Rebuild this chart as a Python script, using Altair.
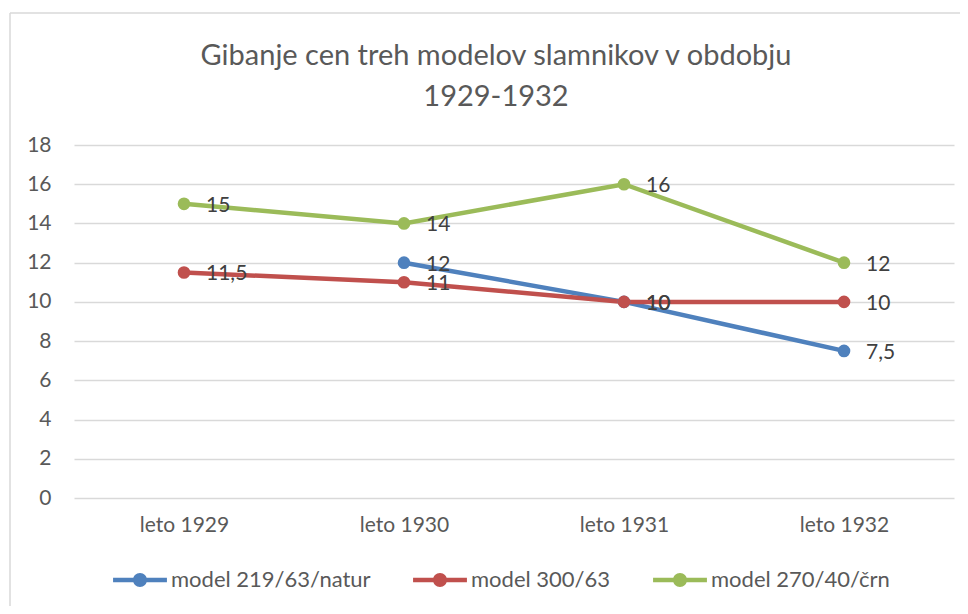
import altair as alt
import pandas as pd

years = ["leto 1929", "leto 1930", "leto 1931", "leto 1932"]
series = ["model 219/63/natur", "model 300/63", "model 270/40/črn"]
colors = ["#4F81BD", "#C0504D", "#9BBB59"]
vals_219 = [None, 12, 10, 7.5]
vals_300 = [11.5, 11, 10, 10]
vals_270 = [15, 14, 16, 12]
y_ticks = [0, 2, 4, 6, 8, 10, 12, 14, 16, 18]

rows = []
for s, vals in zip(series, [vals_219, vals_300, vals_270]):
    for i, (yr, v) in enumerate(zip(years, vals)):
        if v is None:
            continue
        rows.append({"leto": yr, "serija": s, "cena": v,
                     "oznaka": f"{v:g}".replace(".", ","),
                     "red": series.index(s)})
df = pd.DataFrame(rows)

FONT = "Lato"
GREY = "#595959"

legend_path = ("M-1,-0.085 L1,-0.085 L1,0.085 L-1,0.085 Z "
               "M0.26,0 A0.26,0.26 0 1,1 -0.26,0 A0.26,0.26 0 1,1 0.26,0 Z")

x_enc = alt.X("leto:N", sort=years, title=None,
              scale=alt.Scale(type="point", padding=0.5),
              axis=alt.Axis(labelAngle=0, grid=False, domain=False, ticks=False,
                            labelPadding=16, labelFontSize=21, labelFont=FONT,
                            labelColor=GREY))
y_enc = alt.Y("cena:Q", title=None,
              scale=alt.Scale(domain=[0, 18], nice=False),
              axis=alt.Axis(values=y_ticks, grid=True, gridColor="#d9d9d9",
                            gridWidth=1.5, domain=False, ticks=False,
                            labelPadding=23, labelFontSize=21, labelFont=FONT,
                            labelColor=GREY))
color_scale = alt.Scale(domain=series, range=colors)

base = alt.Chart(df)

lines = base.mark_line(strokeWidth=4.5).encode(
    x=x_enc, y=y_enc,
    color=alt.Color("serija:N", scale=color_scale, legend=None),
)

points = base.mark_point(filled=True, size=160, opacity=1).encode(
    x=x_enc, y=y_enc,
    color=alt.Color("serija:N", scale=color_scale,
                    legend=alt.Legend(title=None, orient="none", legendX=39,
                                      legendY=408, direction="horizontal",
                                      symbolType=legend_path, symbolSize=2900,
                                      symbolStrokeWidth=0, labelFontSize=22,
                                      labelFont=FONT, labelColor=GREY,
                                      labelOffset=4, columnPadding=42,
                                      labelLimit=400)),
    order=alt.Order("red:Q"),
)

labels = base.mark_text(align="left", baseline="middle", dx=22, dy=2,
                        fontSize=21, font=FONT, color="#404040").encode(
    x=x_enc, y=y_enc, text="oznaka:N",
)

border = alt.Chart(pd.DataFrame({"k": [0]})).mark_rule(
    color="#d9d9d9", strokeWidth=1.5).encode(
    x=alt.value(-64), y=alt.value(-132), y2=alt.value(470))
border_top = alt.Chart(pd.DataFrame({"k": [0]})).mark_rule(
    color="#d9d9d9", strokeWidth=1.5).encode(
    x=alt.value(-64), x2=alt.value(900), y=alt.value(-132))

chart = alt.layer(border, border_top, lines, points, labels).resolve_legend(
    color="independent"
).properties(
    width=880, height=353,
    autosize=alt.AutoSizeParams(type="none"),
    padding={"left": 66, "top": 137, "right": 6, "bottom": 108},
    title=alt.Title(["Gibanje cen treh modelov slamnikov v obdobju", "1929-1932"],
                    anchor="middle", frame="group", dx=-18, offset=-100,
                    lineHeight=41, fontSize=29, font=FONT, color=GREY,
                    fontWeight="normal"),
).configure_view(stroke=None)

chart.save("out.html", embed_options={"renderer": "svg", "actions": False})
